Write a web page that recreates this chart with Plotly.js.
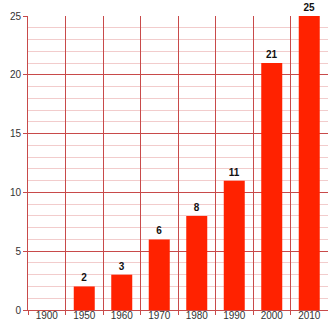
<!DOCTYPE html>
<html><head><meta charset="utf-8">
<script src="https://cdn.plot.ly/plotly-3.0.1.min.js"></script>
<style>html,body{margin:0;padding:0;background:#fff}#c{width:328px;height:320px}</style>
</head><body><div id="c"></div>
<script>
const years = ['1900','1950','1960','1970','1980','1990','2000','2010'];
const values = [0, 2, 3, 6, 8, 11, 21, 25];
const yTicks = [0, 5, 10, 15, 20, 25];

const majorGrid = '#c84a4a';
const minorGrid = '#f2cccc';
const fontFam = 'Liberation Sans, Arial, sans-serif';

const trace = {
  type: 'bar', x: years, y: values,
  marker: {color: '#ff2200'},
  text: values.map(v => v > 0 ? '<b>' + v + '</b>' : ''),
  textposition: 'outside', cliponaxis: false,
  textfont: {family: fontFam, size: 10, color: '#111'}
};

Plotly.newPlot('c', [trace], {
  width: 328, height: 320, margin: {l: 28, r: 0, t: 16, b: 10}, bargap: 0.44,
  paper_bgcolor: '#ffffff', plot_bgcolor: '#ffffff', showlegend: false,
  font: {family: fontFam, size: 10, color: '#333'},
  xaxis: {type: 'category', tickson: 'boundaries', showgrid: true, gridcolor: majorGrid,
    ticks: 'outside', ticklen: 4, tickcolor: majorGrid, showline: true, linecolor: majorGrid,
    ticklabelstandoff: -4,
    tickfont: {family: fontFam, size: 10, color: '#333'}},
  yaxis: {range: [0, 25], tickvals: yTicks, showgrid: true, gridcolor: majorGrid,
    minor: {dtick: 1, showgrid: true, gridcolor: minorGrid, ticks: ''},
    ticks: 'outside', ticklen: 4, tickcolor: majorGrid, showline: true, linecolor: majorGrid,
    zeroline: false, tickfont: {family: fontFam, size: 10, color: '#333'}}
}, {staticPlot: true});
</script></body></html>
